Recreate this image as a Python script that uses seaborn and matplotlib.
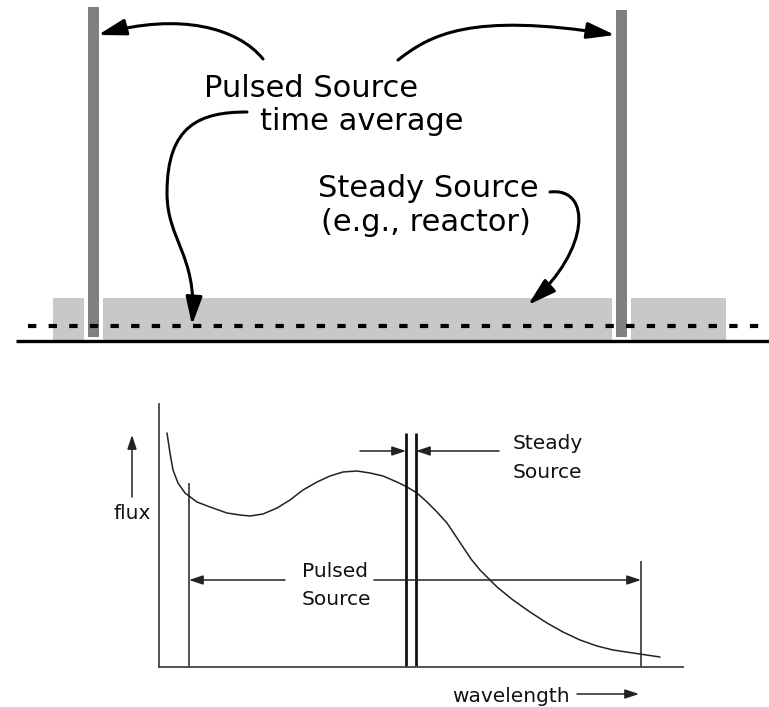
import numpy as np
import pandas as pd
import matplotlib
matplotlib.use("Agg")
from matplotlib import pyplot as plt
from matplotlib.patches import FancyArrowPatch
from matplotlib.path import Path
import seaborn as sns

sns.set_theme(style="white")
plt.rcParams['font.family'] = ['DejaVu Sans']
plt.rcParams['text.color'] = 'black'

# top panel: time structure of the two kinds of source
pulse_times = [93.5, 621.5]
pulse_peaks = [334, 331]
pulse_width = 11
pulse_gap = 19
steady_start = 53
steady_end = 726
steady_level = 43
average_level = 15

# bottom panel: flux vs wavelength spectrum
wave = [8, 11, 14, 19, 26, 38, 51, 68, 81, 91, 104, 118, 131, 144, 158, 171, 184, 198,
        211, 224, 238, 248, 258, 268, 278, 288, 296, 304, 312, 321, 338, 354, 371, 388, 404, 421,
        438, 454, 474, 501]
flux = [234, 214, 197, 184, 174, 165, 160, 154, 152, 151, 153, 159, 167, 177, 185, 191, 195, 196,
        194, 191, 185, 180, 174, 165, 155, 144, 132, 120, 108, 97, 80, 67, 55, 44, 35, 27,
        21, 17, 14, 10]
pulsed_band = [30, 482]
pulsed_band_top = [184, 106]
steady_band = [247, 257]
steady_band_top = 234

fig = plt.figure(figsize=(7.69, 7.07), dpi=100)

# ---------- top panel ----------
ax = fig.add_axes([0, 357 / 707, 1, 350 / 707])
ax.set_xlim(0, 769)
ax.set_ylim(-9, 341)
ax.axis("off")

ax.bar((steady_start + steady_end) / 2, steady_level, width=steady_end - steady_start,
       color="#c8c8c8", linewidth=0, zorder=1)
ax.bar(pulse_times, [steady_level] * 2, width=pulse_gap, color="white", linewidth=0, zorder=2)
ax.bar(pulse_times, np.array(pulse_peaks) - 4, bottom=4, width=pulse_width,
       color="#808080", linewidth=0, zorder=3)
ax.plot([16, 769], [0, 0], color="black", lw=2.4, solid_capstyle="butt", zorder=4)
ax.plot([28, 775], [average_level, average_level], color="black", lw=3,
        dashes=(2.0, 2.95), zorder=5, clip_on=False)

def curved_arrow(axis, verts, lw=2.2, scale=20, hl=0.85, hw=0.25):
    codes = [Path.MOVETO] + [Path.CURVE4] * (len(verts) - 1)
    arr = FancyArrowPatch(path=Path(verts, codes),
                          arrowstyle=f"-|>,head_length={hl},head_width={hw}",
                          mutation_scale=scale, lw=lw, color="black", zorder=6)
    axis.add_patch(arr)

curved_arrow(ax, [(263, 282), (238, 313), (180, 329), (98, 306)])
curved_arrow(ax, [(398, 281), (430, 306), (470, 329), (615, 306)])
curved_arrow(ax, [(247, 229), (200, 229), (167, 216), (167, 148),
                  (167, 101), (197, 86), (192, 16)])
curved_arrow(ax, [(550, 149), (592, 154), (590, 91), (528, 36)])

big = 22
ax.text(311, 244, "Pulsed Source", ha="center", va="baseline", fontsize=big)
ax.text(362, 211, "time average", ha="center", va="baseline", fontsize=big)
ax.text(428, 144, "Steady Source", ha="center", va="baseline", fontsize=big)
ax.text(426, 110, "(e.g., reactor)", ha="center", va="baseline", fontsize=big)

# ---------- bottom panel ----------
bx = fig.add_axes([159 / 769, 40 / 707, 524 / 769, 263 / 707])
bx.set_xlim(0, 524)
bx.set_ylim(0, 263)
for s in ["top", "right"]:
    bx.spines[s].set_visible(False)
for s in ["left", "bottom"]:
    bx.spines[s].set_color("#444444")
    bx.spines[s].set_linewidth(1.3)
bx.set_xticks([])
bx.set_yticks([])
bx.patch.set_alpha(0)

spec = pd.DataFrame({"wavelength": wave, "flux": flux})
sns.lineplot(data=spec, x="wavelength", y="flux", sort=False, estimator=None,
             color="#222222", lw=1.1, ax=bx)

bx.vlines(pulsed_band, 0, pulsed_band_top, color="#222222", lw=1.1)
bx.vlines(steady_band, 0, steady_band_top, color="#111111", lw=2.0)

small = 14.5
thin = dict(arrowstyle="-|>,head_length=0.6,head_width=0.2", mutation_scale=14,
            lw=1.1, color="#222222", shrinkA=0, shrinkB=0)
bx.annotate("", xy=(pulsed_band[0], 87), xytext=(126, 87), arrowprops=thin)
bx.annotate("", xy=(pulsed_band[1], 87), xytext=(215, 87), arrowprops=thin)
bx.text(176, 90, "Pulsed", ha="center", va="baseline", fontsize=small, color="#111111")
bx.text(177, 62, "Source", ha="center", va="baseline", fontsize=small, color="#111111")

bx.annotate("", xy=(steady_band[0], 216), xytext=(201, 216), arrowprops=thin)
bx.annotate("", xy=(steady_band[1], 216), xytext=(340, 216), arrowprops=thin)
bx.text(354, 218, "Steady", ha="left", va="baseline", fontsize=small, color="#111111")
bx.text(354, 189, "Source", ha="left", va="baseline", fontsize=small, color="#111111")

bx.annotate("", xy=(-27, 232), xytext=(-27, 170), arrowprops=thin, annotation_clip=False)
bx.text(-46, 148, "flux", ha="left", va="baseline", fontsize=small, color="#111111",
        clip_on=False)
bx.annotate("", xy=(480, -27), xytext=(418, -27), arrowprops=thin, annotation_clip=False)
bx.text(293, -35, "wavelength", ha="left", va="baseline", fontsize=small, color="#111111",
        clip_on=False)

fig.savefig("out.png", dpi=100)
